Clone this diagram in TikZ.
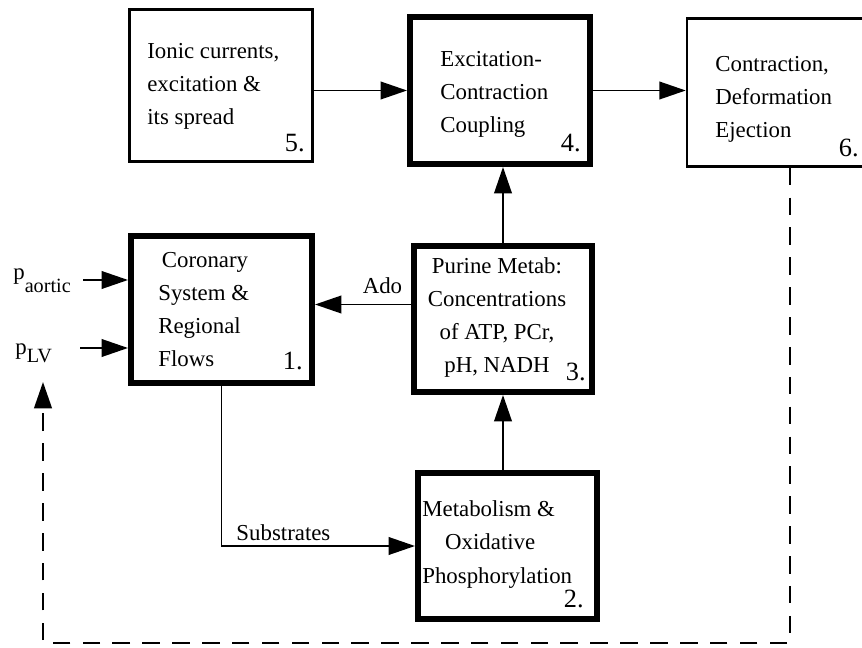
\documentclass[tikz,border=0pt]{standalone}
\usepackage{fontspec}
\setmainfont{Liberation Serif}
\usetikzlibrary{arrows.meta}

% lowered subscript in text font
\newcommand{\lowtext}[2]{\raisebox{-#1}{\fontsize{11.5}{12}\selectfont #2}}

\begin{document}
\begin{tikzpicture}[x=0.02cm, y=-0.02cm,
    box/.style={draw, line width=1.4pt, inner sep=0pt},
    heavy/.style={box, line width=3.4pt},
    boxsize/.style 2 args={minimum width=#1*0.02cm, minimum height=#2*0.02cm},
    txt/.style={font=\fontsize{13}{18.8}\selectfont, inner sep=0pt},
    num/.style={font=\fontsize{15}{18}\selectfont, inner sep=0pt, anchor=base east},
    link/.style={line width=1.1pt, -{Triangle[length=15pt, width=10pt]}},
    feedback/.style={link, line width=1.4pt, dash pattern=on 10pt off 7pt}
  ]

  % Size of the figure
  \useasboundingbox (0,0) rectangle (862,648);

  % The six blocks (the last one runs past the right edge)
  \node[box, boxsize={183}{152}] (ionic) at (221,85.5) {};
  \node[heavy, boxsize={180}{147}] (ecc) at (500,90.5) {};
  \node[box, boxsize={182}{148}] (contr) at (778,92.5) {};
  \node[heavy, boxsize={181}{147}] (coro) at (221.5,309.5) {};
  \node[heavy, boxsize={178}{146}] (purine) at (503,319) {};
  \node[heavy, boxsize={179}{146}] (metab) at (507.5,546) {};

  % Block texts (base = last line)
  \node[txt, align=left, anchor=base west] (ionict) at (147,125)
    {Ionic currents,\\excitation \&\\its spread};
  \node[txt, align=left, anchor=base west] (ecct) at (440,133)
    {Excitation-\\Contraction\\Coupling};
  \node[txt, align=left, anchor=base west] (contrt) at (715,138)
    {Contraction,\\Deformation\\Ejection};
  \node[txt, align=left, anchor=base west] (corot) at (158,367)
    {\hspace{5\pgflinewidth}Coronary\\System \&\\Regional\\Flows};
  \node[txt, align=center, anchor=base] (purinet) at (497,373)
    {Purine Metab:\\Concentrations\\of ATP, PCr,\\pH, NADH};
  \node[txt, align=left, anchor=base west] (metabt) at (422,583)
    {Metabolism \&\\\hspace{13pt}Oxidative\\Phosphorylation};

  % Block numbers
  \node[num] (n5) at (305,152) {5.};
  \node[num] (n4) at (581,152) {4.};
  \node[num] (n6) at (859,157) {6.};
  \node[num] (n1) at (303,370) {1.};
  \node[num] (n3) at (586,380) {3.};
  \node[num] (n2) at (584,607) {2.};

  % Pressures at the inlet
  \node[txt, anchor=base west] (paortic) at (13,280) {p\lowtext{7pt}{aortic}};
  \node[txt, anchor=base west] (plv) at (15,355) {p\lowtext{4.5pt}{LV}};
  \coordinate (ain) at (83,280);
  \coordinate (lvin) at (80,348);
  \draw[link] (ain) -- (ain -| coro.west);
  \draw[link] (lvin) -- (lvin -| coro.west);

  % Forward path along the top
  \draw[link] (ecc.west -| ionic.east) -- (ecc.west);
  \draw[link] (ecc.east) -- (ecc.east -| contr.west);

  % Metabolic chain
  \draw[link] (purine.south |- metab.north) -- (purine.south);
  \draw[link] (purine.north) -- (purine.north |- ecc.south);
  \draw[link] ([yshift=0.1cm]coro.east -| purine.west) -- ([yshift=0.1cm]coro.east)
    node[pos=0, anchor=south east, txt, inner xsep=4.5pt, inner ysep=5.5pt] (ado) {Ado};
  \draw[link] (coro.south) |- (metab.west)
    node[pos=0.66, anchor=south, txt, inner ysep=2.5pt] (subs) {Substrates};

  % Feedback of the ventricular pressure
  \coordinate (fbend) at (43,382);
  \draw[feedback] (contr.south) ++(12,0) -- ++(0,475) -| (fbend);

\end{tikzpicture}
\end{document}
